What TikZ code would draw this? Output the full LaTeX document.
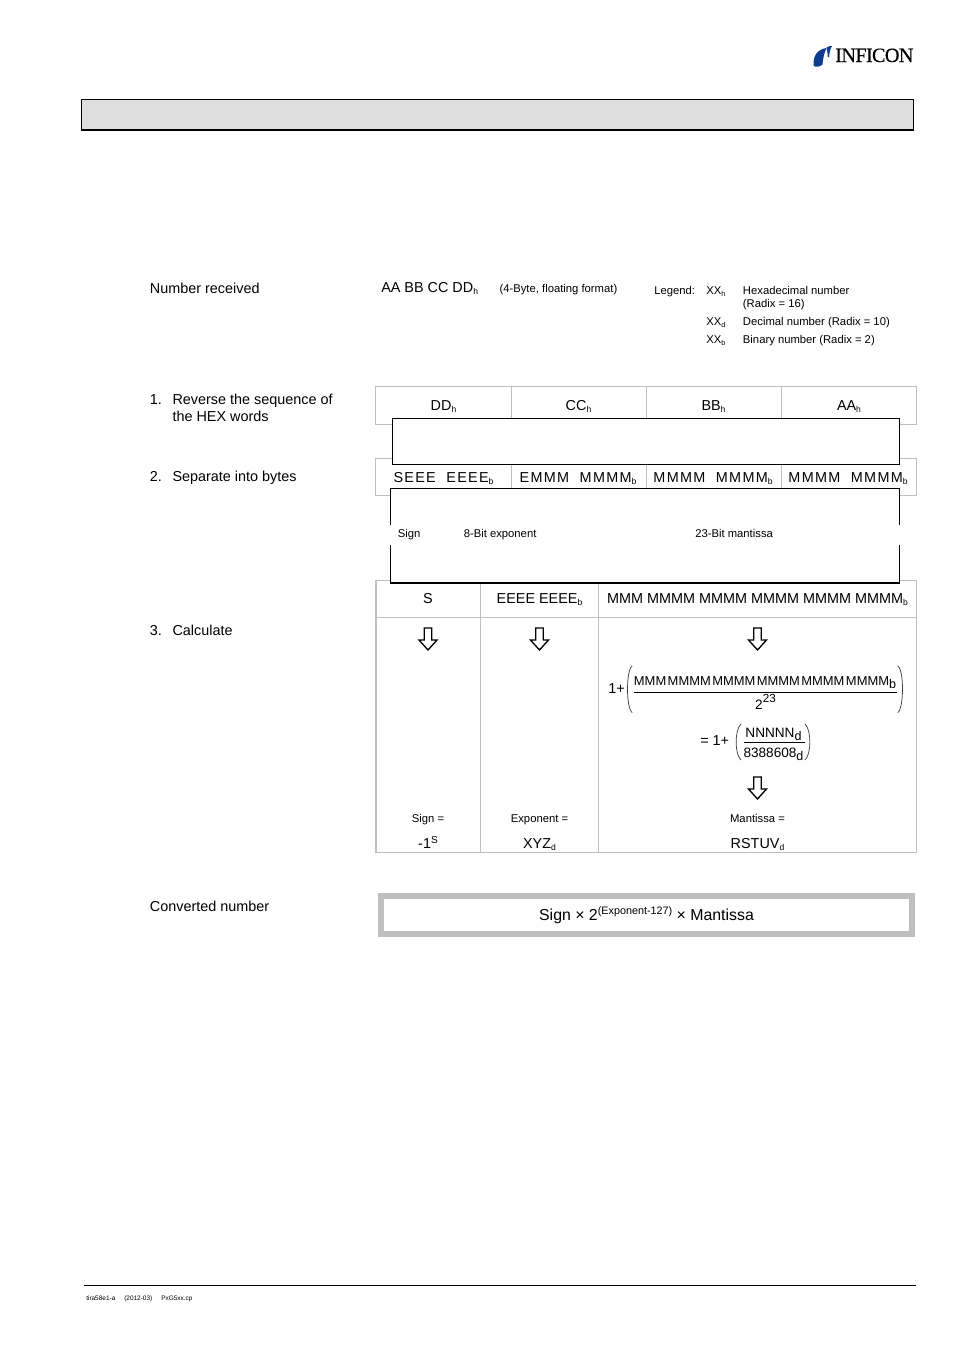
\documentclass[tikz,border=0pt]{standalone}
\usepackage{fontspec}
\setmainfont{Liberation Sans}
\newfontfamily\logofont{Liberation Serif}
\definecolor{logoblue}{RGB}{10,60,150}
\newcommand{\fsz}[1]{\fontsize{#1}{#1}\selectfont}
\newcommand{\lowtxt}[2][6.4]{\raisebox{-0.38ex}{\fsz{#1}#2}}
\newcommand{\uptxt}[2][7.6]{\raisebox{0.62ex}{\fsz{#1}#2}}
\tikzset{
  x=0.75pt,y=-0.75pt,
  tabline/.style={draw=black!25,line width=0.85pt},
  lbl/.style={anchor=base west,inner sep=0pt,font=\fsz{10.8}},
  small/.style={anchor=base west,inner sep=0pt,font=\fsz{8.45}},
  ctr/.style={anchor=base,inner sep=0pt,font=\fsz{10.8}},
  smallctr/.style={anchor=base,inner sep=0pt,font=\fsz{8.45}},
  spaced/.style={anchor=base,inner sep=0pt,font=\fsz{10.8}\addfontfeature{LetterSpace=9}},
  mathtxt/.style={anchor=base,inner sep=0pt,font=\fsz{9.7}},
  fractxt/.style={anchor=base,inner sep=0pt,font=\fsz{10.2}},
  paren/.style={draw=black!75,line width=0.55pt,line cap=round},
  blockarrow/.style={draw=black,fill=white,line width=1pt,line join=miter}
}
\newcommand{\downarrowat}[2]{\draw[blockarrow,shift={(#1,#2)}] (-3.7,-11) -- (3.7,-11) -- (3.7,1) -- (9,1) -- (0,11) -- (-9,1) -- (-3.7,1) -- cycle;}
\newcommand{\lowfrac}[1]{\raisebox{-0.55ex}{\fsz{9.4}#1}}
\begin{document}
\begin{tikzpicture}
\useasboundingbox (0,0) rectangle (954,1350);
\fill[white] (0,0) rectangle (954,1350);
% logo
\fill[logoblue] (813.5,65.5) .. controls (813,56) and (817,49.5) .. (826.5,48) .. controls (824,53) and (823,59) .. (822.5,64.5) .. controls (820,67) and (815,67.5) .. (813.5,65.5) -- cycle;
\fill[logoblue] (826.5,47.5) .. controls (828.5,46.2) and (830.5,45.8) .. (832,46) .. controls (830,49) and (829.5,53) .. (829,57) -- (827.6,57) .. controls (827.6,53) and (827.4,50) .. (826.5,47.5) -- cycle;
\node[anchor=base west,inner sep=0pt,font=\logofont\fsz{15.2}\addfontfeature{LetterSpace=-3.3,FakeBold=0.35}] (logo) at (835,62) {INFICON};
% header band
\fill[black!13] (81.5,99.5) rectangle (913.5,130);
\draw[line width=0.6pt] (81.5,130) -- (81.5,99.5) -- (913.5,99.5) -- (913.5,130);
\draw[line width=1.4pt] (81,130) -- (914,130);
% left labels
\node[lbl] (nr) at (149.7,293) {Number received};
\node[lbl] (s1n) at (149.7,404) {1.};
\node[lbl] (s1a) at (172.3,404) {Reverse the sequence of};
\node[lbl] (s1b) at (172.3,421) {the HEX words};
\node[lbl] (s2n) at (149.7,481) {2.};
\node[lbl] (s2a) at (172.3,481) {Separate into bytes};
\node[lbl] (s3n) at (149.7,635) {3.};
\node[lbl] (s3a) at (172.3,635) {Calculate};
\node[lbl] (cn) at (149.7,911) {Converted number};
% number received line
\node[lbl] (aabb) at (381,292) {AA BB CC DD\lowtxt{h}};
\node[small] (fmt) at (499.3,292) {(4-Byte, floating format)};
\node[small] (leg) at (654,294) {Legend:};
\node[small] (x1) at (706,294) {XX\lowtxt[5.4]{h}};
\node[small] (t1) at (742.7,294) {Hexadecimal number};
\node[small] (t1b) at (742.7,307) {(Radix = 16)};
\node[small] (x2) at (706,325) {XX\lowtxt[5.4]{d}};
\node[small] (t2) at (742.7,325) {Decimal number (Radix = 10)};
\node[small] (x3) at (706,343) {XX\lowtxt[5.4]{b}};
\node[small] (t3) at (742.7,343) {Binary number (Radix = 2)};
% table 1
\draw[tabline] (375.5,386.5) rectangle (916.5,424.5);
\foreach \c in {511.5,646.5,781.5} \draw[tabline] (\c,386.5) -- (\c,424.5);
\node[ctr] (dd) at (443.5,410) {DD\lowtxt{h}};
\node[ctr] (cc) at (578.5,410) {CC\lowtxt{h}};
\node[ctr] (bb) at (713.5,410) {BB\lowtxt{h}};
\node[ctr] (aa) at (849,410) {AA\lowtxt{h}};
% table 2
\draw[tabline] (375.5,458.5) rectangle (916.5,495.5);
\foreach \c in {511.5,646.5,781.5} \draw[tabline] (\c,458.5) -- (\c,495.5);
\node[spaced] (b1) at (443.5,482) {SEEE\ \ EEEE\lowtxt{b}};
\node[spaced] (b2) at (578,482) {EMMM\ \ MMMM\lowtxt{b}};
\node[spaced] (b3) at (713,482) {MMMM\ \ MMMM\lowtxt{b}};
\node[spaced] (b4) at (848,482) {MMMM\ \ MMMM\lowtxt{b}};
% table 3
\draw[tabline] (376,580.5) rectangle (916.5,852.5);
\draw[tabline] (376,617.5) -- (916.5,617.5);
\foreach \c in {480.5,598.5} \draw[tabline] (\c,580.5) -- (\c,852.5);
% cover box 1
\fill[white] (392.5,418.5) rectangle (899.5,464.5);
\draw[line width=0.75pt] (392.5,418.5) rectangle (899.5,464.5);
% cover box 2
\fill[white] (390.5,488.5) rectangle (899.5,583);
\draw[line width=0.75pt] (390.5,525) -- (390.5,488.5) -- (899.5,488.5) -- (899.5,525);
\draw[line width=0.75pt] (390.5,545) -- (390.5,583) (899.5,545) -- (899.5,583);
\draw[line width=1.2pt] (390,583) -- (900,583);
\node[small] (sg) at (397.5,537) {Sign};
\node[small] (ex8) at (463.5,537) {8-Bit exponent};
\node[small] (m23) at (695,537) {23-Bit mantissa};
% table 3 content
\node[ctr] (s) at (428,603) {S};
\node[ctr] (e) at (539.5,603) {EEEE EEEE\lowtxt{b}};
\node[ctr] (m) at (757.5,603) {MMM MMMM MMMM MMMM MMMM MMMM\lowtxt{b}};
\downarrowat{428}{639}
\downarrowat{539.5}{639}
\downarrowat{757.5}{639}
% formula
\node[lbl] (onep) at (608,693) {1+};
\node[mathtxt] (num) at (765,685) {\spaceskip=1.1pt MMM MMMM MMMM MMMM MMMM MMMM\lowfrac{b}};
\draw[line width=0.7pt] (634,692.5) -- (897,692.5);
\node[fractxt] (den) at (765.5,709) {2\raisebox{0.85ex}{\fsz{8.8}23}};
\draw[paren] (632,666) .. controls (626,671) and (626,707) .. (632,712.5);
\draw[paren] (898,666) .. controls (904,671) and (904,707) .. (898,712.5);
\node[lbl] (eq) at (700,745) {= 1+};
\node[fractxt] (nn) at (773.5,737) {NNNNN\lowfrac{d}};
\draw[line width=0.7pt] (744,742.5) -- (805,742.5);
\node[fractxt] (den2) at (773.5,757) {8388608\lowfrac{d}};
\draw[paren] (741,724) .. controls (734.5,730) and (734.5,754) .. (741,760);
\draw[paren] (805,724) .. controls (811.5,730) and (811.5,754) .. (805,760);
\downarrowat{757.5}{788}
\node[smallctr] (r1) at (428,822) {Sign =};
\node[smallctr] (r2) at (539.5,822) {Exponent =};
\node[smallctr] (r3) at (757.5,822) {Mantissa =};
\node[ctr] (v1) at (428,848) {-1\uptxt{S}};
\node[ctr] (v2) at (539.5,848) {XYZ\lowtxt{d}};
\node[ctr] (v3) at (757.5,848) {RSTUV\lowtxt{d}};
% converted box
\draw[draw=black!25,line width=4.6pt,fill=white] (381,896) rectangle (912,934);
\node[anchor=base,inner sep=0pt,font=\fsz{11.9}] (res) at (646.5,920) {Sign × 2\raisebox{0.62ex}{\fsz{8.1}(Exponent-127)} × Mantissa};
% footer
\draw[line width=0.6pt] (84,1285.5) -- (916,1285.5);
\node[anchor=base west,inner sep=0pt,font=\fsz{4.85}] (f1) at (86,1300) {tira58e1-a};
\node[anchor=base west,inner sep=0pt,font=\fsz{4.85}] (f2) at (124,1300) {(2012-03)};
\node[anchor=base west,inner sep=0pt,font=\fsz{4.85}] (f3) at (161,1300) {PxG5xx.cp};
\end{tikzpicture}
\end{document}
